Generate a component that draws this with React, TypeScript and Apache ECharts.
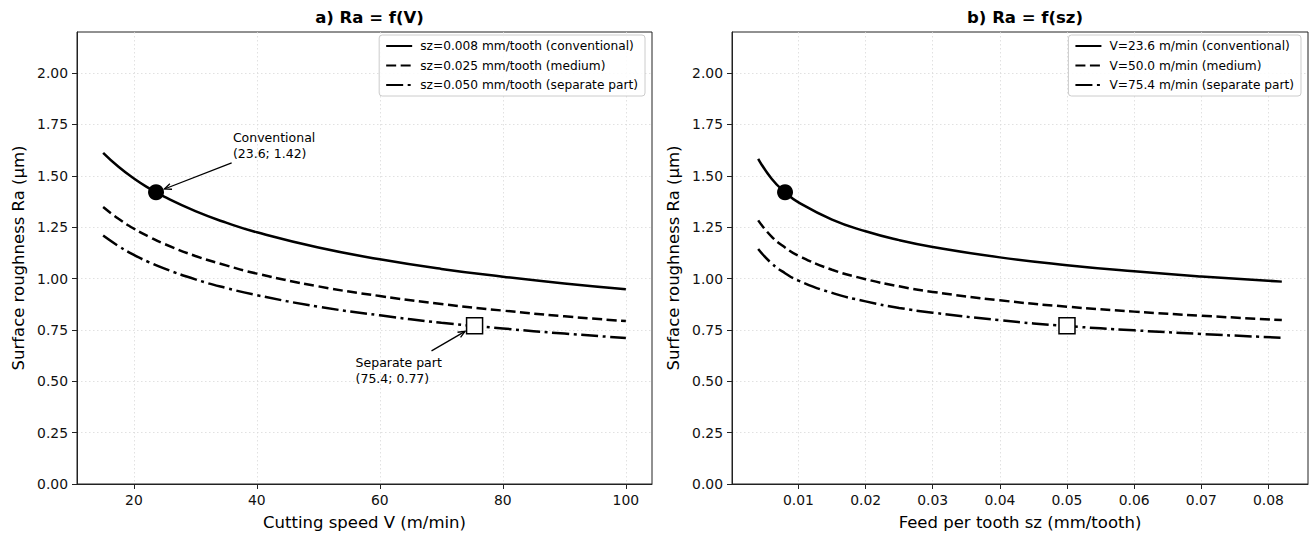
import React, { useEffect, useRef } from "react";
import * as echarts from "echarts";

// ---------- data ----------
const V_VALUES = [15, 17.5, 20, 22.5, 25, 30, 35, 40, 50, 60, 70, 80, 90, 100];
const RA_V_SZ0008 = [1.612, 1.544, 1.487, 1.439, 1.397, 1.328, 1.272, 1.225, 1.151, 1.094, 1.047, 1.009, 0.976, 0.948];
const RA_V_SZ0025 = [1.348, 1.291, 1.243, 1.203, 1.168, 1.11, 1.064, 1.024, 0.962, 0.915, 0.876, 0.844, 0.816, 0.793];
const RA_V_SZ0050 = [1.209, 1.158, 1.115, 1.079, 1.048, 0.996, 0.954, 0.919, 0.863, 0.821, 0.785, 0.757, 0.732, 0.711];

const SZ_VALUES = [0.004, 0.006, 0.008, 0.01, 0.015, 0.02, 0.025, 0.03, 0.04, 0.05, 0.06, 0.07, 0.082];
const RA_SZ_V236 = [1.583, 1.486, 1.42, 1.371, 1.287, 1.23, 1.187, 1.154, 1.103, 1.065, 1.035, 1.01, 0.985];
const RA_SZ_V500 = [1.283, 1.204, 1.151, 1.111, 1.043, 0.997, 0.962, 0.935, 0.894, 0.863, 0.839, 0.819, 0.798];
const RA_SZ_V754 = [1.144, 1.074, 1.026, 0.99, 0.93, 0.889, 0.857, 0.834, 0.797, 0.769, 0.748, 0.73, 0.712];

const CONV_POINT = { v: 23.6, sz: 0.008, ra: 1.42 };
const SEP_POINT = { v: 75.4, sz: 0.05, ra: 0.77 };

const LEFT_NAMES = [
  "sz=0.008 mm/tooth (conventional)",
  "sz=0.025 mm/tooth (medium)",
  "sz=0.050 mm/tooth (separate part)",
];
const RIGHT_NAMES = [
  "V=23.6 m/min (conventional)",
  "V=50.0 m/min (medium)",
  "V=75.4 m/min (separate part)",
];

const Y_TICKS = [0, 0.25, 0.5, 0.75, 1, 1.25, 1.5, 1.75, 2];
const V_TICKS = [20, 40, 60, 80, 100];
const SZ_TICKS = [0.01, 0.02, 0.03, 0.04, 0.05, 0.06, 0.07, 0.08];

const V_RANGE = [10.75, 104.25];
const SZ_RANGE = [0.0001, 0.0859];
const RA_RANGE = [0, 2.2];

// annotation anchors (data coordinates of the left panel)
const CONV_LABEL_AT = [36.1, 1.57];
const CONV_ARROW_FROM = [35.9, 1.563];
const SEP_LABEL_AT = [56.05, 0.632];
const SEP_ARROW_FROM = [68.4, 0.648];

// ---------- styles ----------
const FONT = "DejaVu Sans";
const LINE_TYPES: any[] = ["solid", [10, 4.5], [17, 4.5, 3, 4.5]];

function pairs(xs: number[], ys: number[]) {
  return xs.map((x, i) => [x, ys[i]]);
}

function lineSeries(name: string, xs: number[], ys: number[], idx: number, k: number) {
  return {
    type: "line",
    name,
    xAxisIndex: idx,
    yAxisIndex: idx,
    data: pairs(xs, ys),
    smooth: 0.5,
    symbol: "none",
    silent: true,
    lineStyle: { color: "#000", width: 2.5, type: LINE_TYPES[k] },
    itemStyle: { color: "#000" },
    z: 3,
  };
}

function markerSeries(idx: number, x: number, y: number, square: boolean) {
  return {
    type: "scatter",
    name: square ? "sep" + idx : "conv" + idx,
    xAxisIndex: idx,
    yAxisIndex: idx,
    data: [[x, y]],
    symbol: square ? "rect" : "circle",
    symbolSize: 16,
    silent: true,
    itemStyle: square
      ? { color: "#fff", borderColor: "#000", borderWidth: 1.5, opacity: 1 }
      : { color: "#000", opacity: 1 },
    z: 6,
  };
}

function xAxis(idx: number, range: number[], ticks: number[], name: string, fmt: (v: number) => string) {
  return {
    type: "value",
    gridIndex: idx,
    min: range[0],
    max: range[1],
    name,
    nameLocation: "middle",
    nameGap: 30,
    nameTextStyle: { fontSize: 16.5, color: "#000", fontFamily: FONT },
    axisLine: { show: true, onZero: false, lineStyle: { color: "#222", width: 1 } },
    axisTick: { show: true, length: 5, customValues: ticks, lineStyle: { color: "#222", width: 1 } },
    axisLabel: { customValues: ticks, formatter: fmt, fontSize: 13.9, color: "#111", fontFamily: FONT, margin: 9 },
    splitLine: { show: true, lineStyle: { color: "#d9d9d9", width: 0.8, type: [1.5, 2.5] } },
  };
}

function yAxis(idx: number) {
  return {
    type: "value",
    gridIndex: idx,
    min: RA_RANGE[0],
    max: RA_RANGE[1],
    name: "Surface roughness Ra (µm)",
    nameLocation: "middle",
    nameGap: 50,
    nameTextStyle: { fontSize: 16.5, color: "#000", fontFamily: FONT },
    axisLine: { show: true, onZero: false, lineStyle: { color: "#222", width: 1 } },
    axisTick: { show: true, length: 5, customValues: Y_TICKS, lineStyle: { color: "#222", width: 1 } },
    axisLabel: {
      customValues: Y_TICKS,
      formatter: (v: number) => v.toFixed(2),
      fontSize: 13.9,
      color: "#111",
      fontFamily: FONT,
      margin: 9,
    },
    splitLine: { show: true, lineStyle: { color: "#d9d9d9", width: 0.8, type: [1.5, 2.5] } },
  };
}

function legend(names: string[], right: number) {
  return {
    orient: "vertical",
    right,
    top: 35,
    data: names,
    itemWidth: 26,
    itemHeight: 12,
    itemGap: 7.5,
    padding: [5, 7, 5, 6],
    align: "left",
    selectedMode: false,
    backgroundColor: "rgba(255,255,255,0.85)",
    borderColor: "#cccccc",
    borderWidth: 1,
    borderRadius: 3,
    itemStyle: { opacity: 0, color: "transparent", borderWidth: 0 },
    textStyle: { fontSize: 12.2, color: "#000", fontFamily: FONT, padding: [0, 0, 0, 3] },
  };
}

function arrow(tail: number[], center: number[], shrink: number) {
  const dx = tail[0] - center[0];
  const dy = tail[1] - center[1];
  const len = Math.sqrt(dx * dx + dy * dy);
  const ux = dx / len;
  const uy = dy / len;
  const hx = center[0] + ux * shrink;
  const hy = center[1] + uy * shrink;
  const nx = -uy;
  const ny = ux;
  const hl = 7;
  const hw = 3;
  return [
    {
      type: "line",
      z: 20,
      silent: true,
      shape: { x1: tail[0], y1: tail[1], x2: hx, y2: hy },
      style: { stroke: "#000", lineWidth: 1.3 },
    },
    {
      type: "polyline",
      z: 20,
      silent: true,
      shape: {
        points: [
          [hx + ux * hl + nx * hw, hy + uy * hl + ny * hw],
          [hx, hy],
          [hx + ux * hl - nx * hw, hy + uy * hl - ny * hw],
        ],
      },
      style: { stroke: "#000", lineWidth: 1.3, fill: "none" },
    },
  ];
}

export default function App() {
  const ref = useRef<HTMLDivElement>(null);

  useEffect(() => {
    if (!ref.current) return;
    const chart = echarts.init(ref.current, null, { renderer: "svg" });

    const option: any = {
      animation: false,
      backgroundColor: "#fff",
      textStyle: { fontFamily: FONT },
      title: [
        {
          text: "a) Ra = f(V)",
          left: 364.5,
          top: 4,
          textAlign: "center",
          textStyle: { fontSize: 16.5, fontWeight: "bold", color: "#000", fontFamily: FONT },
        },
        {
          text: "b) Ra = f(sz)",
          left: 1020,
          top: 4,
          textAlign: "center",
          textStyle: { fontSize: 16.5, fontWeight: "bold", color: "#000", fontFamily: FONT },
        },
      ],
      grid: [
        { left: 77, top: 32, width: 575, height: 452, show: true, borderColor: "#222", borderWidth: 1, backgroundColor: "transparent", outerBoundsMode: "none" },
        { left: 732, top: 32, width: 576, height: 452, show: true, borderColor: "#222", borderWidth: 1, backgroundColor: "transparent", outerBoundsMode: "none" },
      ],
      xAxis: [
        xAxis(0, V_RANGE, V_TICKS, "Cutting speed V (m/min)", (v: number) => String(v)),
        xAxis(1, SZ_RANGE, SZ_TICKS, "Feed per tooth sz (mm/tooth)", (v: number) => v.toFixed(2)),
      ],
      yAxis: [yAxis(0), yAxis(1)],
      legend: [legend(LEFT_NAMES, 668), legend(RIGHT_NAMES, 12)],
      series: [
        lineSeries(LEFT_NAMES[0], V_VALUES, RA_V_SZ0008, 0, 0),
        lineSeries(LEFT_NAMES[1], V_VALUES, RA_V_SZ0025, 0, 1),
        lineSeries(LEFT_NAMES[2], V_VALUES, RA_V_SZ0050, 0, 2),
        markerSeries(0, CONV_POINT.v, CONV_POINT.ra, false),
        markerSeries(0, SEP_POINT.v, SEP_POINT.ra, true),
        lineSeries(RIGHT_NAMES[0], SZ_VALUES, RA_SZ_V236, 1, 0),
        lineSeries(RIGHT_NAMES[1], SZ_VALUES, RA_SZ_V500, 1, 1),
        lineSeries(RIGHT_NAMES[2], SZ_VALUES, RA_SZ_V754, 1, 2),
        markerSeries(1, CONV_POINT.sz, CONV_POINT.ra, false),
        markerSeries(1, SEP_POINT.sz, SEP_POINT.ra, true),
      ],
    };
    chart.setOption(option);

    const px = (p: number[]) => chart.convertToPixel({ gridIndex: 0 } as any, p) as number[];
    const convC = px([CONV_POINT.v, CONV_POINT.ra]);
    const sepC = px([SEP_POINT.v, SEP_POINT.ra]);
    const convLbl = px(CONV_LABEL_AT);
    const sepLbl = px(SEP_LABEL_AT);

    chart.setOption({
      graphic: [
        {
          type: "text",
          z: 20,
          silent: true,
          x: convLbl[0],
          y: convLbl[1],
          style: {
            text: `Conventional\n(${CONV_POINT.v}; ${CONV_POINT.ra.toFixed(2)})`,
            fontSize: 12.5,
            fontFamily: FONT,
            fill: "#000",
            align: "left",
            verticalAlign: "bottom",
            lineHeight: 16,
          },
        },
        {
          type: "text",
          z: 20,
          silent: true,
          x: sepLbl[0],
          y: sepLbl[1],
          style: {
            text: `Separate part\n(${SEP_POINT.v}; ${SEP_POINT.ra.toFixed(2)})`,
            fontSize: 12.5,
            fontFamily: FONT,
            fill: "#000",
            align: "left",
            verticalAlign: "top",
            lineHeight: 16,
          },
        },
        ...arrow(px(CONV_ARROW_FROM), convC, 9),
        ...arrow(px(SEP_ARROW_FROM), sepC, 11),
      ],
    });

    return () => chart.dispose();
  }, []);

  return (
    <div
      ref={ref}
      style={{ position: "fixed", left: 0, top: 0, width: 1313, height: 537, background: "#fff" }}
    />
  );
}
